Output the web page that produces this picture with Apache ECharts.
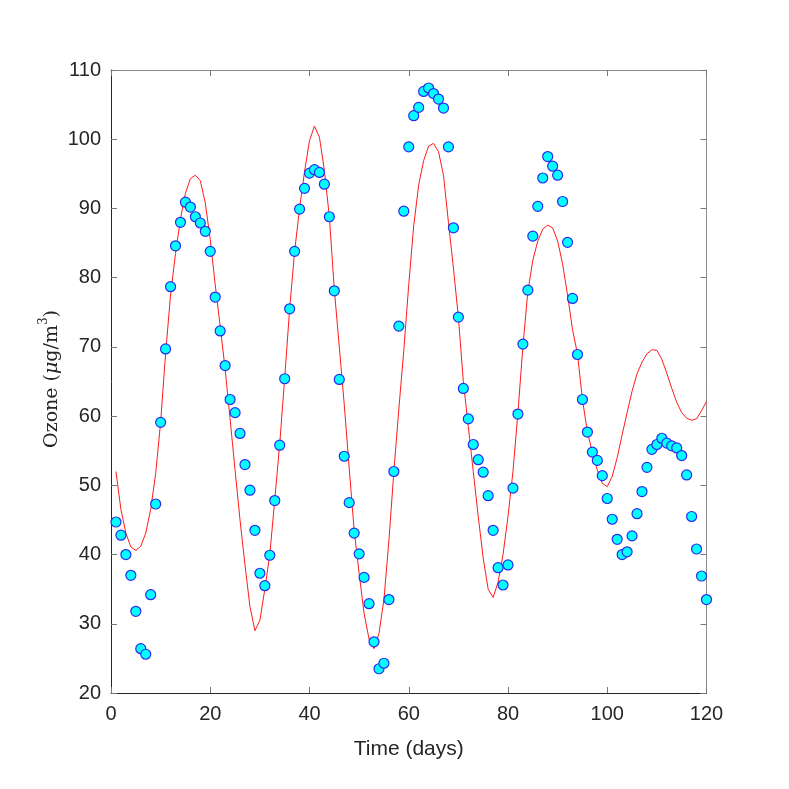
<!DOCTYPE html>
<html>
<head>
<meta charset="utf-8">
<script src="https://cdn.jsdelivr.net/npm/echarts@6/dist/echarts.min.js"></script>
<style>
html,body{margin:0;padding:0;background:#fff;}
#chart{width:789px;height:789px;}
</style>
</head>
<body>
<div id="chart"></div>
<script>
// Observed ozone (markers), one value per day 1..120
var ozoneObserved = [
44.7,42.8,40.0,37.0,31.8,26.4,25.6,34.2,47.3,59.1,
69.7,78.7,84.6,88.0,90.9,90.2,88.8,87.9,86.7,83.8,
77.2,72.3,67.3,62.4,60.5,57.5,53.0,49.3,43.5,37.3,
35.5,39.9,47.8,55.8,65.4,75.5,83.8,89.9,92.9,95.1,
95.6,95.2,93.5,88.8,78.1,65.3,54.2,47.5,43.1,40.1,
36.7,32.9,27.4,23.5,24.3,33.5,52.0,73.0,89.6,98.9,
103.4,104.6,106.9,107.4,106.6,105.8,104.5,98.9,87.2,74.3,
64.0,59.6,55.9,53.7,51.9,48.5,43.5,38.1,35.6,38.5,
49.6,60.3,70.4,78.2,86.0,90.3,94.4,97.5,96.1,94.8,
91.0,85.1,77.0,68.9,62.4,57.7,54.8,53.6,51.4,48.1,
45.1,42.2,40.0,40.4,42.7,45.9,49.1,52.6,55.2,55.9,
56.8,56.1,55.7,55.4,54.3,51.5,45.5,40.8,36.9,33.5
];
// Model curve (red line), one value per day 1..120
var ozoneModel = [
52.0,46.5,43.1,41.1,40.6,41.2,43.1,46.5,51.7,59.1,
69.0,77.5,83.5,88.5,92.2,94.3,94.8,94.0,90.8,85.5,
79.0,73.0,66.8,59.6,52.2,45.0,38.5,32.5,29.0,30.5,
35.0,40.0,47.9,56.0,65.5,75.5,83.8,90.0,95.3,99.8,
101.9,100.3,95.5,88.8,78.3,70.0,61.7,52.5,43.5,37.3,
31.5,27.8,26.4,28.6,33.5,42.0,52.0,61.0,69.5,79.0,
87.5,93.4,96.9,99.0,99.4,98.2,94.8,88.0,81.4,74.3,
65.0,58.5,52.0,45.5,39.5,35.0,33.8,36.0,40.0,45.5,
52.0,60.5,70.0,78.0,82.5,85.3,87.0,87.6,87.2,85.3,
82.0,77.5,72.5,69.0,62.4,57.7,54.8,52.2,50.3,49.8,
51.3,54.0,57.3,60.5,63.6,66.1,67.8,69.0,69.6,69.5,
68.2,66.2,64.0,62.0,60.5,59.7,59.4,59.6,60.8,62.1
];
var days = ozoneObserved.map(function(v,i){return i+1;});
var xTicks = [0,20,40,60,80,100,120];
var yTicks = [20,30,40,50,60,70,80,90,100,110];

var obsData = days.map(function(d,i){return [d, ozoneObserved[i]];});
var modelData = days.map(function(d,i){return [d, ozoneModel[i]];});

var sans = 'Liberation Sans, Arial, sans-serif';
var serif = 'DejaVu Serif, Liberation Serif, serif';
var axisDark = '#262626';
var axisLight = '#8c8c8c';

function xAx(pos, showLabel, color){
  return {
    type:'value', position:pos, min:xTicks[0], max:xTicks[xTicks.length-1], interval:20,
    axisLine:{show:true, onZero:false, lineStyle:{color:color, width:1}},
    axisTick:{show:true, inside:true, length:6, lineStyle:{color:'#777', width:1}},
    axisLabel:{show:showLabel, color:axisDark, fontSize:20, fontFamily:sans, margin:11},
    splitLine:{show:false}
  };
}
function yAx(pos, showLabel, color){
  return {
    type:'value', position:pos, min:yTicks[0], max:yTicks[yTicks.length-1], interval:10,
    axisLine:{show:true, onZero:false, lineStyle:{color:color, width:1}},
    axisTick:{show:true, inside:true, length:6, lineStyle:{color:'#777', width:1}},
    axisLabel:{show:showLabel, color:axisDark, fontSize:20, fontFamily:sans, margin:10},
    splitLine:{show:false}
  };
}

var xMain = xAx('bottom', true, axisDark);
xMain.name = 'Time (days)';
xMain.nameLocation = 'middle';
xMain.nameGap = 46;
xMain.nameTextStyle = {color:axisDark, fontSize:21, fontFamily:sans};

var chart = echarts.init(document.getElementById('chart'), null, {renderer:'canvas'});
chart.setOption({
  animation:false,
  backgroundColor:'#ffffff',
  grid:{left:111, right:82.5, top:70, bottom:96, containLabel:false},
  xAxis:[xMain, xAx('top', false, axisLight)],
  yAxis:[yAx('left', true, axisDark), yAx('right', false, axisLight)],
  graphic:[{
    type:'text',
    left:38, top:310,
    rotation:Math.PI/2,
    style:{
      text:'{r|Ozone (}{i|μ}{r|g/m}{s|3}{r|)}',
      rich:{
        r:{fontFamily:serif, fontSize:19, fill:axisDark, verticalAlign:'bottom', lineHeight:24},
        i:{fontFamily:serif, fontSize:19, fontStyle:'italic', fill:axisDark, verticalAlign:'bottom', lineHeight:24},
        s:{fontFamily:serif, fontSize:12, fill:axisDark, verticalAlign:'top', lineHeight:24}
      }
    }
  }],
  series:[
    {
      type:'line', data:modelData, xAxisIndex:0, yAxisIndex:0,
      showSymbol:false, symbol:'none', smooth:false,
      lineStyle:{color:'#ff1a1a', width:1}, z:2
    },
    {
      type:'scatter', data:obsData, xAxisIndex:0, yAxisIndex:0,
      symbol:'circle', symbolSize:10,
      itemStyle:{color:'#00ffff', borderColor:'#2a2aee', borderWidth:1.2, opacity:1}, z:3
    }
  ]
});
</script>
</body>
</html>
